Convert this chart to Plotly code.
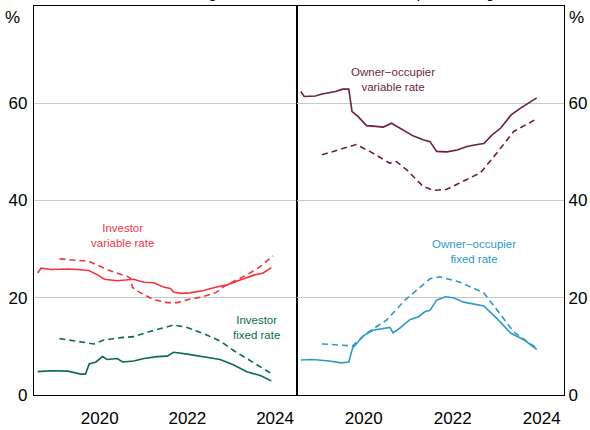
import plotly.graph_objects as go

# ---------------- data ----------------
inv_var_dates = ["2019-02-01","2019-03-01","2019-05-20","2019-10-10","2020-01-01","2020-04-01","2020-06-15",
                 "2020-08-10","2020-11-25","2021-02-15","2021-04-10","2021-07-05","2021-09-25","2021-12-15",
                 "2022-02-10","2022-03-10","2022-05-05","2022-07-25","2022-11-15","2023-03-01","2023-05-25",
                 "2023-09-10","2024-01-01","2024-03-25","2024-06-01"]
inv_var = [25.1,26.1,25.8,25.9,25.8,25.6,24.7,23.8,23.5,23.6,23.8,23.2,23.1,22.2,21.9,21.2,20.9,21.0,21.5,
           22.2,22.6,23.6,24.6,25.1,26.2]

inv_var_new_dates = ["2019-08-01","2020-04-01","2020-10-01","2021-02-15","2021-03-15","2021-04-01","2021-06-01",
                     "2021-09-25","2022-01-15","2022-04-10","2022-07-01","2022-10-20","2023-03-01","2023-05-01",
                     "2023-07-20","2023-11-10","2024-03-01","2024-06-15"]
inv_var_new = [28.0,27.5,25.5,24.4,24.0,22.1,21.1,19.6,19.0,19.0,19.6,20.1,21.1,22.3,23.3,24.7,26.4,28.6]

inv_fix_dates = ["2019-02-01","2019-05-20","2019-10-10","2020-01-25","2020-03-05","2020-04-05","2020-06-01",
                 "2020-07-25","2020-09-01","2020-11-25","2021-01-08","2021-04-12","2021-07-05","2021-10-22",
                 "2022-01-15","2022-03-10","2022-07-01","2022-10-20","2023-04-01","2023-07-20","2023-11-10",
                 "2024-03-01","2024-06-01"]
inv_fix = [4.8,5.0,4.9,4.3,4.3,6.4,6.8,7.9,7.3,7.5,6.8,7.0,7.5,7.9,8.0,8.8,8.4,7.9,7.3,6.2,4.8,4.0,2.9]

inv_fix_new_dates = ["2019-08-01","2020-05-15","2020-08-05","2020-12-25","2021-04-12","2021-08-30","2022-03-10",
                     "2022-07-01","2022-12-15","2023-04-01","2023-07-20","2023-11-10","2024-06-01"]
inv_fix_new = [11.6,10.5,11.3,11.8,12.0,13.1,14.4,13.9,12.3,11.1,9.2,7.5,4.4]

oo_var_dates = ["2019-02-01","2019-03-01","2019-06-01","2019-07-25","2019-11-15","2020-01-10","2020-03-01",
                "2020-03-28","2020-05-15","2020-07-25","2020-09-15","2020-12-10","2021-02-15","2021-04-22",
                "2021-08-10","2021-11-01","2021-12-28","2022-02-20","2022-05-15","2022-08-08","2022-10-28",
                "2023-01-20","2023-03-15","2023-05-22","2023-08-01","2023-10-25","2024-01-10","2024-05-22"]
oo_var = [62.4,61.4,61.5,61.9,62.4,62.9,62.9,58.3,57.3,55.4,55.3,55.1,55.9,54.9,53.3,52.5,52.1,50.1,50.0,
          50.4,51.1,51.5,51.7,53.5,54.9,57.6,59.0,61.1]

oo_var_new_dates = ["2019-07-25","2020-05-01","2020-08-20","2021-01-30","2021-03-28","2021-06-20","2021-11-01",
                    "2022-01-25","2022-05-15","2022-10-01","2023-02-15","2023-07-01","2023-11-15","2024-05-22"]
oo_var_new = [49.4,51.5,50.1,47.7,48.0,46.3,42.9,42.1,42.3,44.0,45.7,49.8,54.2,56.8]

oo_fix_dates = ["2019-02-01","2019-05-08","2019-09-25","2019-12-28","2020-03-01","2020-04-01","2020-06-25",
                "2020-09-15","2021-02-01","2021-02-28","2021-04-22","2021-07-15","2021-09-25","2021-11-15",
                "2021-12-28","2022-02-20","2022-05-01","2022-07-08","2022-10-01","2022-12-25","2023-03-15",
                "2023-07-01","2023-10-22","2024-02-10","2024-05-22"]
oo_fix = [7.2,7.3,7.0,6.6,6.8,9.6,12.1,13.3,13.9,12.8,13.7,15.5,16.1,17.1,17.4,19.5,20.2,20.0,19.1,18.7,
          18.3,15.7,12.7,11.3,9.4]

oo_fix_new_dates = ["2019-07-25","2020-04-01","2020-07-25","2021-01-05","2021-06-05","2021-12-28","2022-03-20",
                    "2022-09-01","2023-03-15","2023-07-01","2023-11-15","2024-05-22"]
oo_fix_new = [10.5,10.1,12.7,15.4,19.5,23.9,24.3,23.2,21.0,17.4,13.0,9.6]

year_ticks = ["2019-01-01","2020-01-01","2021-01-01","2022-01-01","2023-01-01","2024-01-01","2025-01-01"]
label_pos = ["2020-07-02","2022-07-02","2024-07-02"]
label_text = ["2020","2022","2024"]
y_ticks = [0, 20, 40, 60]

titles = ["Investor lending", "Owner-occupier lending"]

# ---------------- style ----------------
RED = "#F5333F"
GREEN = "#0B6B50"
MAROON = "#6E1E42"
BLUE = "#2E9AC4"
FONT = "Liberation Sans, Arial, sans-serif"
LW = 1.6
XRANGE = ["2019-01-01", "2025-01-01"]

fig = go.Figure()

def add(x, y, color, dash, xa, ya):
    fig.add_trace(go.Scatter(x=x, y=y, mode="lines", xaxis=xa, yaxis=ya, showlegend=False,
                             line=dict(color=color, width=LW, dash=dash), hoverinfo="skip"))

add(inv_var_dates, inv_var, RED, "solid", "x", "y")
add(inv_var_new_dates, inv_var_new, RED, "6px,4px", "x", "y")
add(inv_fix_dates, inv_fix, GREEN, "solid", "x", "y")
add(inv_fix_new_dates, inv_fix_new, GREEN, "6px,4px", "x", "y")
add(oo_var_dates, oo_var, MAROON, "solid", "x2", "y2")
add(oo_var_new_dates, oo_var_new, MAROON, "6px,4px", "x2", "y2")
add(oo_fix_dates, oo_fix, BLUE, "solid", "x2", "y2")
add(oo_fix_new_dates, oo_fix_new, BLUE, "6px,4px", "x2", "y2")

split = 263 / 530

# label axes (year labels centred in each year)
xcommon = dict(type="date", range=XRANGE, tickmode="array",
               tickvals=label_pos, ticktext=label_text, ticks="", showgrid=False,
               showline=True, linecolor="black", linewidth=1.3, mirror=True,
               tickfont=dict(family=FONT, size=17, color="black"), zeroline=False,
               automargin=False, ticklabelstandoff=7)
# tick axes (year boundaries, ticks pointing inward)
xtick = dict(type="date", range=XRANGE, tickmode="array", tickvals=year_ticks,
             ticks="inside", ticklen=5, tickwidth=1.2, tickcolor="black",
             showticklabels=False, showgrid=False, showline=False, zeroline=False,
             automargin=False, side="bottom")
ycommon = dict(range=[0, 80], tickmode="array", tickvals=y_ticks, ticks="",
               showgrid=True, gridcolor="#C9C9C9", gridwidth=1, zeroline=False,
               showline=True, linecolor="black", linewidth=1.3, mirror=True,
               automargin=False,
               tickfont=dict(family=FONT, size=17, color="black"))

fig.update_layout(
    width=590, height=430,
    margin=dict(l=34, r=26, t=6, b=35),
    paper_bgcolor="white", plot_bgcolor="white",
    xaxis=dict(domain=[0, split], anchor="y", **xcommon),
    xaxis2=dict(domain=[split, 1], anchor="y2", **xcommon),
    xaxis3=dict(overlaying="x", anchor="y", **xtick),
    xaxis4=dict(overlaying="x2", anchor="y2", **xtick),
    yaxis=dict(domain=[0, 1], anchor="x", side="left", ticklabelstandoff=2, **ycommon),
    yaxis2=dict(domain=[0, 1], anchor="x2", side="right", **ycommon),
)

ann = []
lab_font = 11.5
ann.append(dict(x="2021-01-08", y=32.9, xref="x", yref="y", text="Investor<br>variable rate",
                showarrow=False, font=dict(family=FONT, size=lab_font, color=RED)))
ann.append(dict(x="2024-02-01", y=13.9, xref="x", yref="y", text="Investor<br>fixed rate",
                showarrow=False, font=dict(family=FONT, size=lab_font, color=GREEN)))
ann.append(dict(x="2021-02-25", y=64.9, xref="x2", yref="y2", text="Owner\u2212occupier<br>variable rate",
                showarrow=False, font=dict(family=FONT, size=lab_font, color=MAROON)))
ann.append(dict(x="2022-12-28", y=29.6, xref="x2", yref="y2", text="Owner\u2212occupier<br>fixed rate",
                showarrow=False, font=dict(family=FONT, size=lab_font, color=BLUE)))
# % unit labels
ann.append(dict(x=-22 / 530, y=1 - 12 / 389, xref="paper", yref="paper", text="%", showarrow=False,
                xanchor="center", yanchor="middle", font=dict(family=FONT, size=17, color="black")))
ann.append(dict(x=1 + 12 / 530, y=1 - 12 / 389, xref="paper", yref="paper", text="%", showarrow=False,
                xanchor="center", yanchor="middle", font=dict(family=FONT, size=17, color="black")))
# panel titles (mostly above the visible page, as in the reference)
ann.append(dict(x=split / 2 - 2 / 530, y=1 + 3 / 389, xref="paper", yref="paper", text=titles[0],
                showarrow=False, xanchor="center", yanchor="bottom",
                font=dict(family=FONT, size=15, color="black")))
ann.append(dict(x=(split + 1) / 2 - 16 / 530, y=1 + 3 / 389, xref="paper", yref="paper", text=titles[1],
                showarrow=False, xanchor="center", yanchor="bottom",
                font=dict(family=FONT, size=15, color="black")))
fig.update_layout(annotations=ann)

fig.write_html("out.html", config={"displayModeBar": False},
               post_script="document.body.style.margin='0px';")
